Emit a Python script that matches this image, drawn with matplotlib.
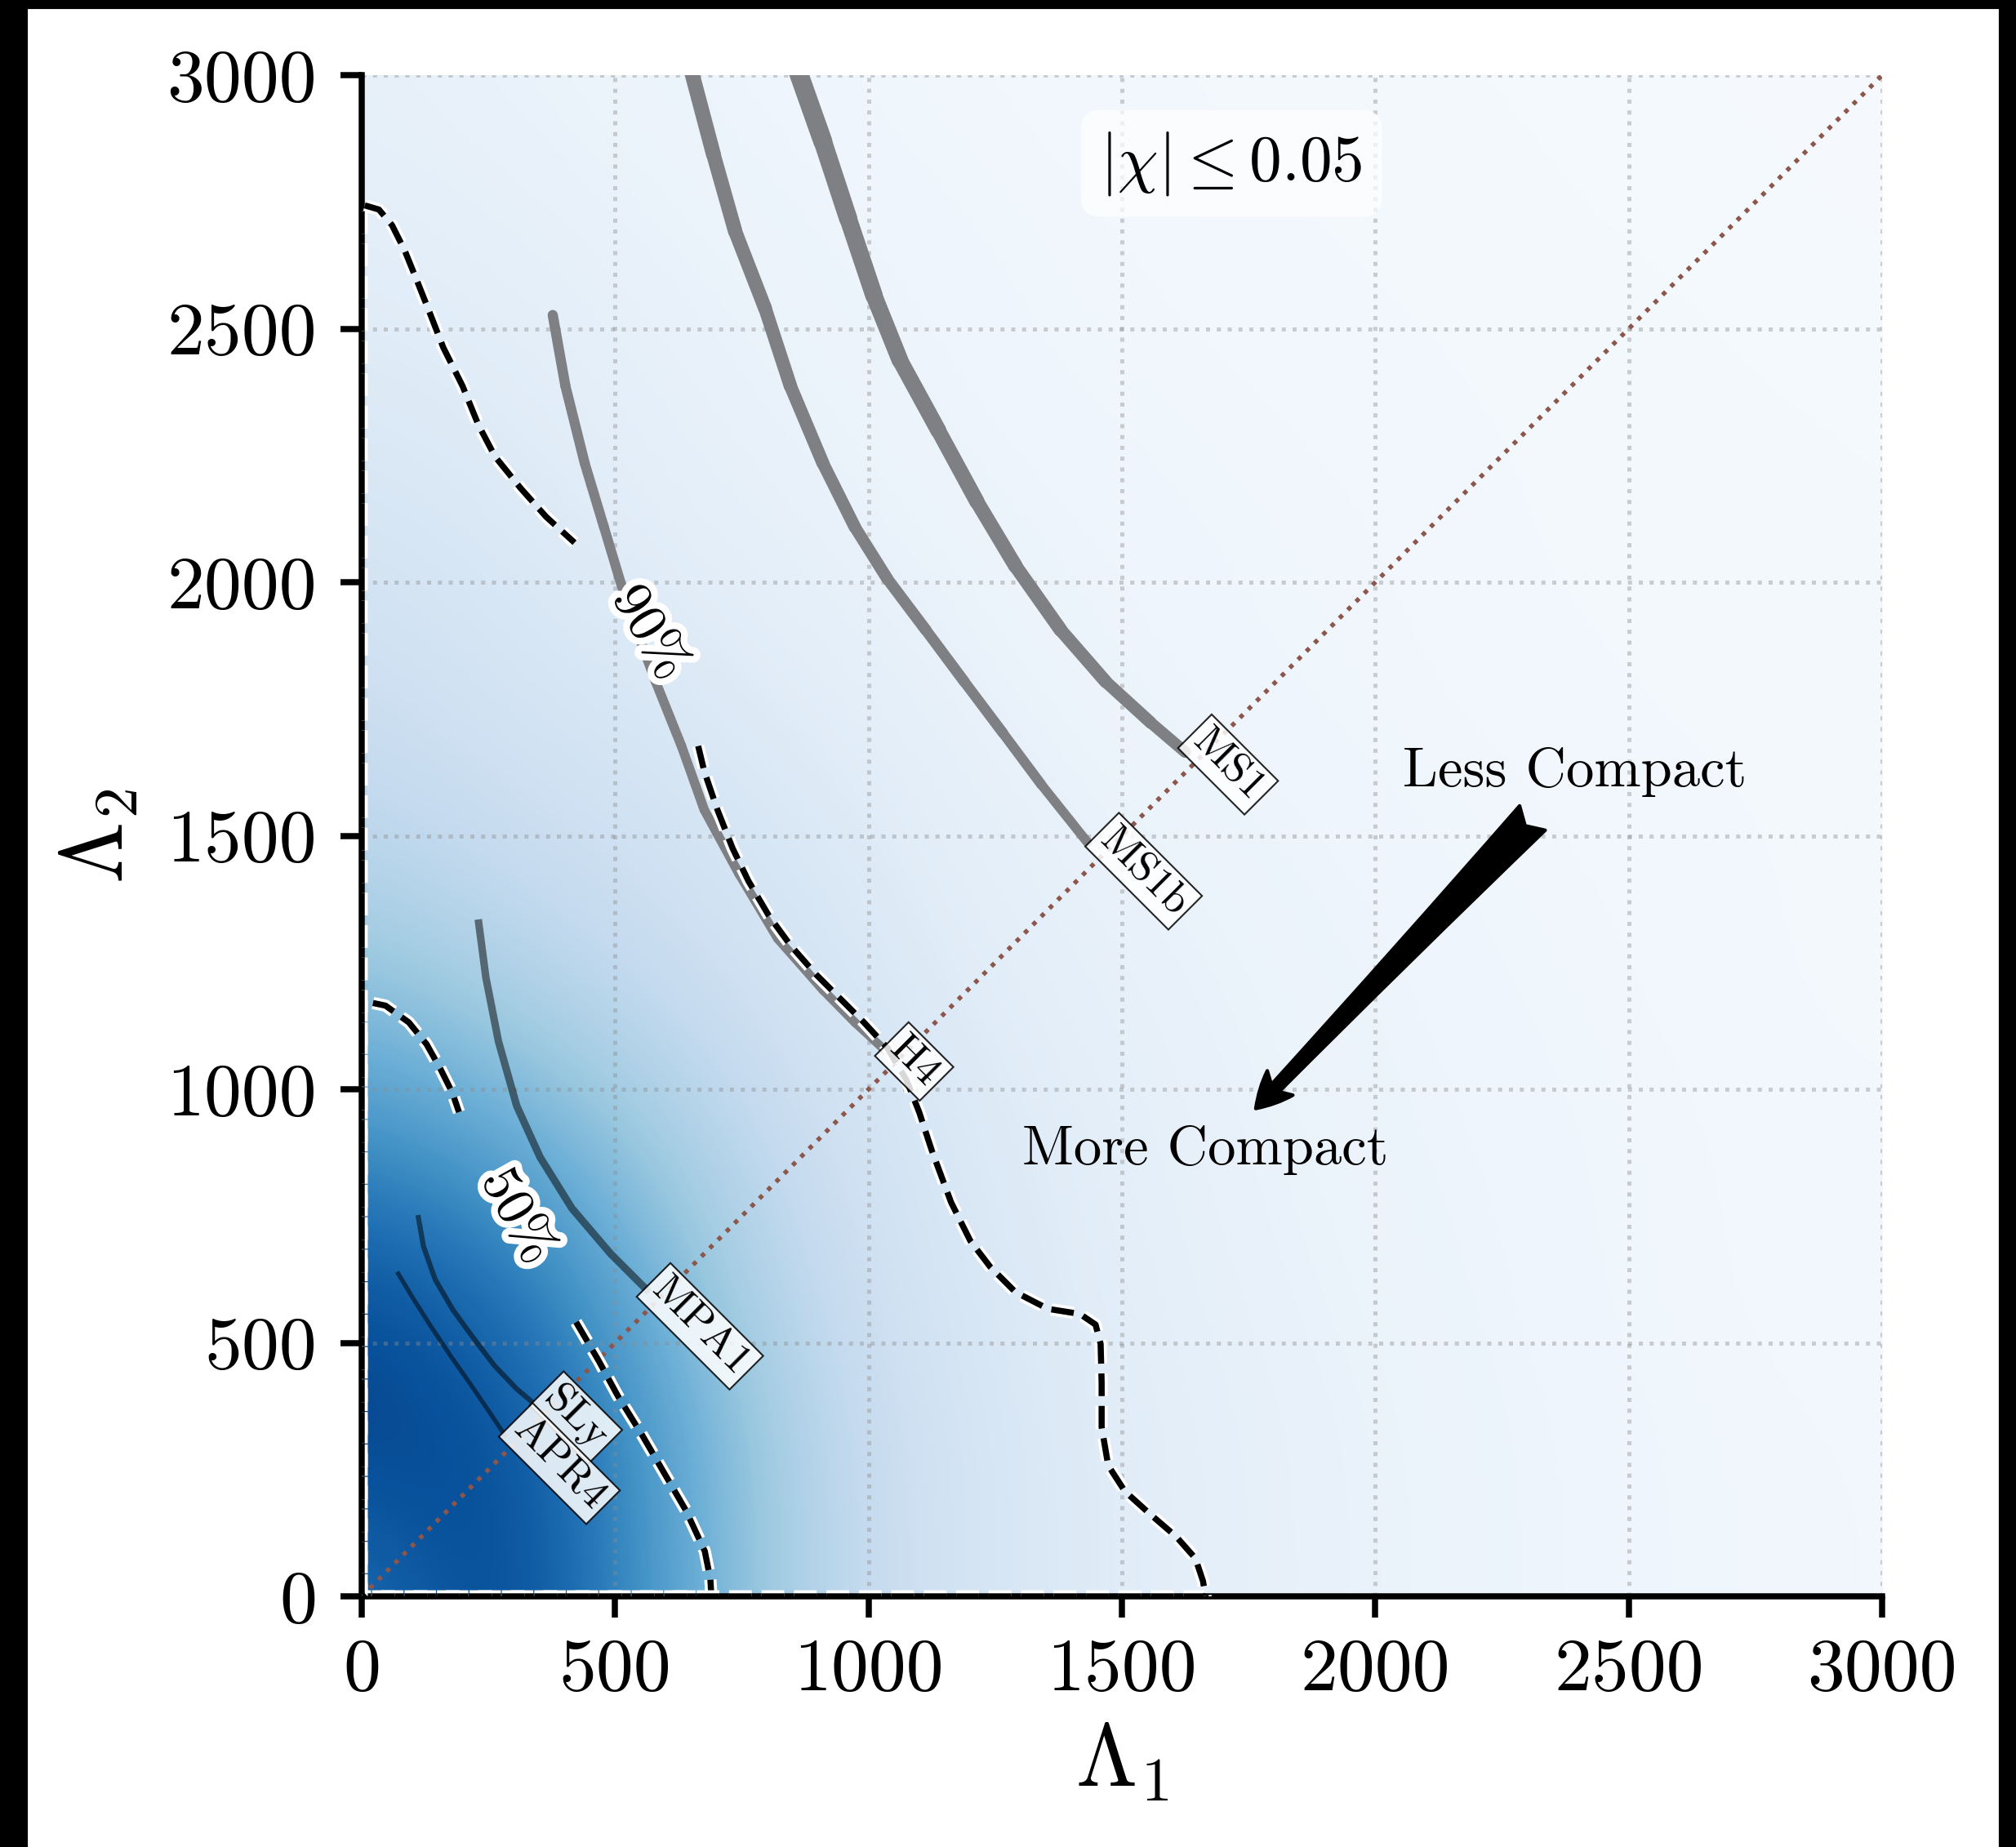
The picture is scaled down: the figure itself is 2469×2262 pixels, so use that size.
import matplotlib
matplotlib.use("Agg")
import matplotlib.pyplot as plt
import matplotlib.patheffects as pe
from matplotlib.collections import LineCollection
from matplotlib.patches import Rectangle
import numpy as np

plt.rcParams.update({
    "font.family": "serif",
    "font.serif": ["cmr10"],
    "mathtext.fontset": "cm",
    "axes.unicode_minus": False,
})

# background posterior density (Blues level, 0..1), grid step 300 in both Lambdas
GRID_STEP = 300
DENSITY = [
    # x: 0     300   600   900   1200  1500  1800  2100  2400  2700  3000
    [0.74, 0.95, 0.55, 0.28, 0.17, 0.11, 0.08, 0.06, 0.045, 0.035, 0.03],  # y=0
    [0.92, 0.90, 0.55, 0.28, 0.17, 0.11, 0.08, 0.06, 0.045, 0.035, 0.03],  # y=300
    [0.90, 0.76, 0.45, 0.24, 0.15, 0.10, 0.07, 0.055, 0.04, 0.03, 0.025],  # y=600
    [0.64, 0.52, 0.35, 0.21, 0.14, 0.09, 0.065, 0.05, 0.04, 0.03, 0.025],  # y=900
    [0.42, 0.32, 0.24, 0.17, 0.11, 0.08, 0.06, 0.045, 0.035, 0.025, 0.02],  # y=1200
    [0.28, 0.23, 0.19, 0.14, 0.09, 0.065, 0.05, 0.04, 0.03, 0.025, 0.02],  # y=1500
    [0.22, 0.17, 0.14, 0.10, 0.07, 0.05, 0.04, 0.03, 0.025, 0.02, 0.02],  # y=1800
    [0.17, 0.14, 0.10, 0.075, 0.055, 0.045, 0.035, 0.03, 0.02, 0.02, 0.015],  # y=2100
    [0.13, 0.11, 0.08, 0.06, 0.045, 0.035, 0.03, 0.025, 0.02, 0.015, 0.015],  # y=2400
    [0.10, 0.085, 0.065, 0.05, 0.04, 0.03, 0.025, 0.02, 0.015, 0.015, 0.01],  # y=2700
    [0.08, 0.065, 0.05, 0.04, 0.03, 0.025, 0.02, 0.015, 0.015, 0.01, 0.01],  # y=3000
]

# credible-region contours (dashed); gap = inline label
C50_X = [423, 468, 505, 554, 597, 640, 677, 688, 690, 0, 0, 47, 93, 128, 156, 179, 192]
C50_Y = [541, 464, 396, 317, 243, 169, 89, 34, 0, 0, 1175, 1165, 1132, 1089, 1039, 993, 955]
C90_X = [664, 676, 702, 732, 763, 803, 846, 897, 948, 991, 1037, 1075, 1100, 1125, 1163,
         1201, 1240, 1290, 1354, 1417, 1448, 1458, 1460, 1460, 1473, 1506, 1557, 1607,
         1645, 1660, 1665, 0, 0, 34, 60, 85, 111, 136, 161, 199, 230, 263, 314, 364, 420]
C90_Y = [1677, 1627, 1551, 1475, 1411, 1343, 1284, 1226, 1175, 1132, 1082, 1018, 955, 879, 777,
         701, 650, 600, 567, 557, 536, 498, 422, 334, 258, 207, 161, 118,
         75, 30, 0, 0, 2745, 2735, 2704, 2654, 2590, 2527, 2463, 2387, 2311, 2248, 2185, 2129, 2078]
CONTOUR_LABELS = ["50%", "90%"]
CONTOUR_LABEL_X = [306, 567]
CONTOUR_LABEL_Y = [749, 1900]

# EOS predictions
EOS_NAMES = ["MS1", "MS1b", "H4", "MPA1", "SLy", "APR4"]
EOS_X = [
    [860, 910, 960, 1011, 1062, 1138, 1214, 1290, 1379, 1468, 1557, 1625],
    [650, 694, 737, 796, 846, 910, 973, 1037, 1113, 1189, 1265, 1341, 1432],
    [377, 402, 440, 478, 524, 580, 631, 676, 745, 821, 910, 973, 1040],
    [230, 245, 270, 306, 352, 415, 491, 567],
    [111, 122, 145, 180, 220, 262, 305, 346],
    [70, 100, 135, 175, 215, 253, 285],
]
EOS_Y = [
    [3010, 2869, 2717, 2565, 2438, 2299, 2159, 2032, 1906, 1804, 1723, 1665],
    [3010, 2844, 2692, 2540, 2387, 2235, 2109, 2007, 1906, 1804, 1703, 1601, 1487],
    [2527, 2387, 2235, 2109, 1956, 1804, 1677, 1551, 1424, 1297, 1196, 1132, 1070],
    [1335, 1221, 1094, 967, 866, 765, 676, 600],
    [752, 690, 625, 565, 510, 455, 410, 375],
    [640, 590, 535, 475, 418, 362, 314],
]
EOS_LABEL_X = [1651, 1468, 1053, 583, 372, 311]
EOS_LABEL_Y = [1699, 1505, 1092, 617, 403, 341]

DIAG = [0, 3000]


def eos_line(ax, x, y, w_top, w_end, color, alpha):
    # band gets narrower toward the equal-mass end
    pts = np.column_stack([x, y])
    segs = np.stack([pts[:-1], pts[1:]], axis=1)
    lc = LineCollection(segs, linewidths=np.linspace(w_top, w_end, len(segs)),
                        colors=color, alpha=alpha, capstyle="round", joinstyle="round", zorder=2)
    ax.add_collection(lc)


def main():
    fig = plt.figure(figsize=(2469 / 300, 2262 / 300), dpi=300)
    ax = fig.add_axes([0.1794, 0.1357, 0.7542, 0.8236])

    half = GRID_STEP / 2
    ax.imshow(np.array(DENSITY), origin="lower", cmap="Blues", vmin=0, vmax=1,
              extent=[-half, 3000 + half, -half, 3000 + half],
              interpolation="bicubic", aspect="auto", zorder=0)

    halo = [pe.withStroke(linewidth=3.6, foreground="w")]
    for cx, cy in [(C50_X, C50_Y), (C90_X, C90_Y)]:
        ax.plot(cx, cy, color="k", ls="--", lw=1.8, path_effects=halo, zorder=4)

    # label rotations follow the contour direction at the gap
    for lab, lx, ly, rot in zip(CONTOUR_LABELS, CONTOUR_LABEL_X, CONTOUR_LABEL_Y, [-61, -59]):
        ax.text(lx, ly, lab, rotation=rot, rotation_mode="anchor", ha="center", va="center",
                fontsize=16, zorder=5,
                path_effects=[pe.withStroke(linewidth=4, foreground="w")])

    widths = [(5.6, 3.4), (4.4, 2.8), (3.0, 2.6), (2.2, 2.0), (1.5, 1.5), (1.3, 1.3)]
    for i, name in enumerate(EOS_NAMES):
        w0, w1 = widths[i]
        if i < 3:
            eos_line(ax, EOS_X[i], EOS_Y[i], w0, w1, "#7e8084", 1.0)
        else:
            ax.plot(EOS_X[i], EOS_Y[i], color="k", alpha=0.5, lw=w0,
                    solid_capstyle="butt", zorder=2)
        ax.text(EOS_LABEL_X[i], EOS_LABEL_Y[i], name, rotation=-45, rotation_mode="anchor",
                ha="left", va="center", fontsize=12.5, zorder=6,
                bbox=dict(boxstyle="square,pad=0.12", fc="white", ec="k", lw=0.5, alpha=0.85))

    ax.plot(DIAG, DIAG, ls=":", color="tab:brown", lw=1.3, zorder=3)

    ax.text(1716, 2826, r"$|\chi| \leq 0.05$", fontsize=19, ha="center", va="center",
            bbox=dict(boxstyle="round,pad=0.3", fc="white", ec="none", alpha=0.7), zorder=6)

    ax.annotate("", xy=(1764, 962), xytext=(2310, 1535),
                arrowprops=dict(arrowstyle="fancy", fc="k", ec="k", mutation_scale=26,
                                shrinkA=0, shrinkB=0), zorder=6)
    ax.text(2054, 1597, "Less Compact", fontsize=16.5, ha="left", va="baseline", zorder=6)
    ax.text(1303, 852, "More Compact", fontsize=16.5, ha="left", va="baseline", zorder=6)

    ax.set_xlim(0, 3000)
    ax.set_ylim(0, 3000)
    ax.set_xticks(range(0, 3001, 500))
    ax.set_yticks(range(0, 3001, 500))
    ax.grid(True, ls=":", color="0.55", alpha=0.4, lw=1.2)
    for side in ["top", "right"]:
        ax.spines[side].set_visible(False)
    for side in ["left", "bottom"]:
        ax.spines[side].set_linewidth(1.8)
    ax.tick_params(direction="out", length=6.2, width=1.8, labelsize=22)
    ax.tick_params(axis="x", pad=6)
    ax.tick_params(axis="y", pad=7)
    ax.set_xlabel(r"$\Lambda_1$", fontsize=26, labelpad=5)
    ax.set_ylabel(r"$\Lambda_2$", fontsize=26, labelpad=8)

    # black frame strips around the saved figure
    for rect in [(0, 0, 32 / 2469, 1), (0, 1 - 9 / 2262, 1, 9 / 2262), (2450 / 2469, 0, 19 / 2469, 1)]:
        fig.add_artist(Rectangle(rect[:2], rect[2], rect[3], transform=fig.transFigure,
                                 color="k", zorder=20))

    fig.savefig("out.png", dpi=300)


if __name__ == "__main__":
    main()
